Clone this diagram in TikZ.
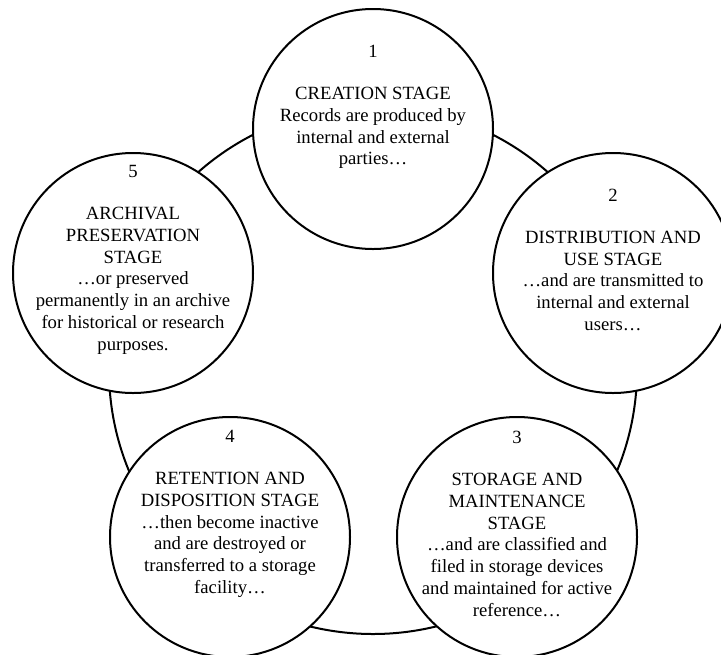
\documentclass[tikz,border=0pt]{standalone}
\usepackage{fontspec}
\setmainfont{Liberation Serif}
\usetikzlibrary{positioning}

\begin{document}
\begin{tikzpicture}[x=0.75pt, y=-0.75pt]
\tikzstyle{stage} = [circle, draw, line width=1.5pt, fill=white, minimum size=180pt, inner sep=0pt]
\tikzstyle{stagetext} = [align=center, inner sep=0pt, font=\fontsize{14}{16.3}\selectfont]

\clip (0,0) rectangle (721,654);
\fill[white] (0,0) rectangle (721,654);

% ring behind the stages
\draw[line width=1.5pt] (373,370) circle[radius=198pt];

\node (creation) [stage] at (373,129) {};
\node (distribution) [stage] at (613,273) {};
\node (storage) [stage] at (517,537) {};
\node (retention) [stage] at (230,537) {};
\node (archival) [stage] at (133,273) {};

\node (creationtext) [stagetext] at ([yshift=16.5pt]creation.center)
  {1\\[15.5pt]CREATION STAGE\\Records are produced by\\internal and external\\parties…};
\node (distributiontext) [stagetext] at ([yshift=10pt]distribution.center)
  {2\\[15.5pt]DISTRIBUTION AND\\USE STAGE\\…and are transmitted to\\internal and external\\users…};
\node (storagetext) [stagetext] at ([yshift=10pt]storage.center)
  {3\\[15.5pt]STORAGE AND\\MAINTENANCE\\STAGE\\…and are classified and\\filed in storage devices\\and maintained for active\\reference…};
\node (retentiontext) [stagetext] at ([yshift=17.5pt]retention.center)
  {4\\[15.5pt]RETENTION AND\\DISPOSITION STAGE\\…then become inactive\\and are destroyed or\\transferred to a storage\\facility…};
\node (archivaltext) [stagetext] at ([yshift=10pt]archival.center)
  {5\\[15.5pt]ARCHIVAL\\PRESERVATION\\STAGE\\…or preserved\\permanently in an archive\\for historical or research\\purposes.};

\end{tikzpicture}
\end{document}
